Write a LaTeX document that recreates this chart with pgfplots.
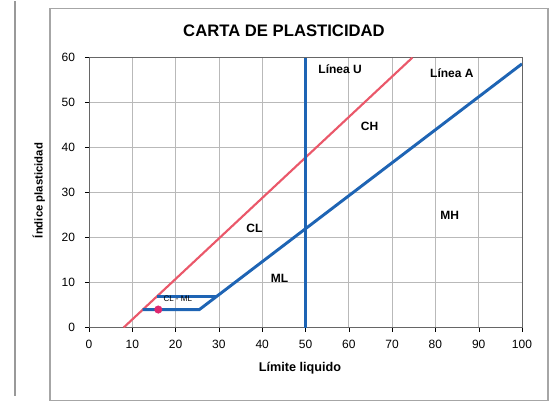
\documentclass[border=0pt]{standalone}
\usepackage{pgfplots}
\pgfplotsset{compat=1.18}
\usepackage{fontspec}
\setmainfont{Liberation Sans}
\definecolor{LineaBlue}{RGB}{30,100,180}
\definecolor{LineaRed}{RGB}{234,88,106}
\definecolor{PointPink}{RGB}{222,40,110}
\begin{document}
\begin{tikzpicture}
  % canvas and frame of the scanned chart (1 px of the reference = 0.75pt)
  \path (0,0) rectangle (417.75pt,308.25pt);
  \draw[gray!70, line width=0.8pt] (37.5pt,8.25pt) rectangle (411pt,302.25pt);
  \draw[gray!80, line width=0.8pt] (11.25pt,12pt) -- (11.25pt,308.25pt);
  \node[font=\bfseries\fontsize{12.5}{14}\selectfont] at (213pt,285.75pt) {CARTA DE PLASTICIDAD};
  \node[font=\bfseries\fontsize{8.5}{10}\selectfont, rotate=90] at (29pt,165.75pt) {Índice plasticidad};
  \node[font=\bfseries\fontsize{9.5}{11}\selectfont] at (225pt,32.25pt) {Límite liquido};
  \begin{axis}[
    at={(66.75pt,63pt)}, anchor=south west,
    scale only axis, width=324.75pt, height=202.5pt,
    xmin=0, xmax=100, ymin=0, ymax=60,
    xtick={0,10,...,100}, ytick={0,10,...,60},
    grid=major, grid style={gray!55, line width=0.5pt},
    axis line style={gray!80!black, line width=0.7pt},
    tick align=outside, major tick length=3pt,
    tick style={black},
    xtick pos=bottom, ytick pos=left,
    /pgf/number format/assume math mode=true,
    ticklabel style={font=\fontsize{9}{10}\selectfont},
    xticklabel style={yshift=-3pt},
    yticklabel style={xshift=-4pt},
  ]
  % U line
  \addplot[LineaRed, line width=1.6pt] coordinates {(8,0) (74.7,60)};
  % A line with CL-ML zone
  \addplot[LineaBlue, line width=2.2pt] coordinates {(12.4,4) (25.5,4) (100,58.6)};
  \addplot[LineaBlue, line width=2.2pt] coordinates {(15.8,7) (29.6,7)};
  % LL = 50
  \addplot[LineaBlue, line width=2.2pt] coordinates {(50,0) (50,60)};
  % sample point
  \addplot[only marks, mark=*, mark size=2.8pt, PointPink] coordinates {(16,4)};

  \node[font=\bfseries\fontsize{9}{10}\selectfont] at (axis cs:58,57.5) {Línea U};
  \node[font=\bfseries\fontsize{9}{10}\selectfont] at (axis cs:83.8,56.5) {Línea A};
  \node[font=\bfseries\fontsize{9}{10}\selectfont] at (axis cs:64.8,44.7) {CH};
  \node[font=\bfseries\fontsize{9}{10}\selectfont] at (axis cs:38.2,22) {CL};
  \node[font=\bfseries\fontsize{9}{10}\selectfont] at (axis cs:83.3,24.9) {MH};
  \node[font=\bfseries\fontsize{9}{10}\selectfont] at (axis cs:44,10.9) {ML};
  \node[font=\fontsize{6}{7}\selectfont] at (axis cs:20.5,6.3) {CL - ML};
  \end{axis}
\end{tikzpicture}
\end{document}
